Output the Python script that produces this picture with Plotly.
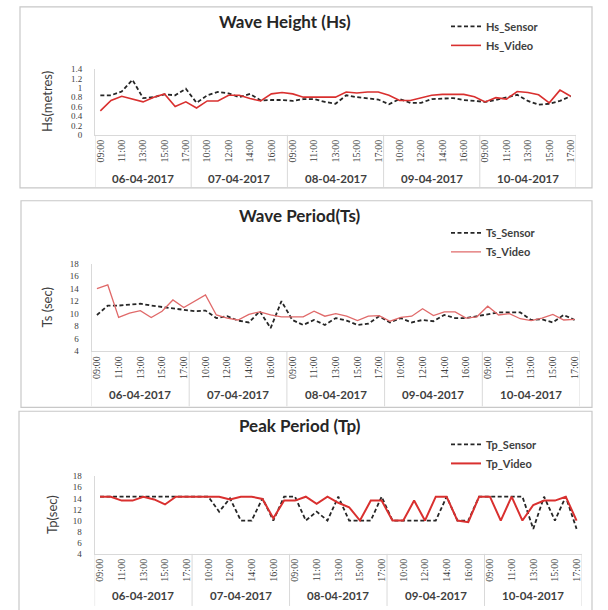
import plotly.graph_objects as go

# ---------------- data ----------------
dates = ["06-04-2017", "07-04-2017", "08-04-2017", "09-04-2017", "10-04-2017"]
hours = ["09:00", "10:00", "11:00", "12:00", "13:00", "14:00", "15:00", "16:00", "17:00"]

hs_sensor = [0.84, 0.84, 0.92, 1.17, 0.78, 0.80, 0.86, 0.84, 0.98,
             0.68, 0.84, 0.91, 0.88, 0.80, 0.87, 0.73, 0.74, 0.74,
             0.72, 0.76, 0.76, 0.70, 0.66, 0.84, 0.80, 0.78, 0.75,
             0.65, 0.76, 0.68, 0.68, 0.76, 0.77, 0.78, 0.74, 0.72,
             0.70, 0.74, 0.80, 0.85, 0.72, 0.64, 0.66, 0.72, 0.82]
hs_video = [0.51, 0.73, 0.82, 0.76, 0.70, 0.80, 0.87, 0.60, 0.70,
            0.57, 0.72, 0.72, 0.84, 0.84, 0.77, 0.72, 0.87, 0.90,
            0.87, 0.80, 0.80, 0.81, 0.80, 0.91, 0.89, 0.91, 0.91,
            0.84, 0.73, 0.73, 0.79, 0.84, 0.86, 0.86, 0.86, 0.81,
            0.70, 0.79, 0.76, 0.92, 0.90, 0.85, 0.68, 0.95, 0.82]

ts_sensor = [9.8, 11.3, 11.3, 11.4, 11.6, 11.3, 11.1, 10.9, 10.7,
             10.4, 10.5, 9.3, 9.6, 8.9, 8.6, 10.4, 7.7, 12.0,
             9.0, 8.2, 9.0, 8.2, 9.3, 8.9, 8.2, 8.4, 9.6,
             8.6, 9.3, 8.6, 9.0, 8.8, 9.8, 9.3, 9.3, 9.6,
             10.0, 10.2, 10.2, 10.2, 9.0, 9.1, 8.6, 9.8, 9.0]
ts_video = [14.0, 14.6, 9.4, 10.1, 10.5, 9.4, 10.4, 12.2, 11.0,
            12.0, 13.0, 9.8, 9.3, 9.0, 9.9, 10.3, 9.8, 9.5,
            9.5, 9.5, 10.4, 9.6, 10.0, 9.6, 8.9, 9.6, 9.7,
            8.8, 9.4, 9.6, 10.8, 9.7, 10.3, 10.3, 9.3, 9.5,
            11.2, 9.8, 10.0, 9.2, 8.9, 9.3, 9.9, 9.0, 9.1]

tp_sensor = [14.3, 14.3, 14.3, 14.3, 14.3, 14.3, 14.3, 14.3, 14.3,
             14.3, 14.3, 11.6, 14.0, 10.0, 10.0, 14.0, 10.0, 14.3,
             14.3, 10.0, 11.6, 10.0, 14.3, 10.0, 10.0, 10.0, 14.3,
             10.0, 10.0, 10.0, 10.0, 10.0, 14.3, 10.0, 10.0, 14.3,
             14.3, 14.3, 14.3, 14.3, 8.5, 14.3, 10.0, 14.3, 8.5]
tp_video = [14.3, 14.3, 13.6, 13.6, 14.3, 13.8, 12.9, 14.3, 14.3,
            14.3, 14.3, 14.3, 13.8, 14.3, 14.3, 13.9, 10.4, 13.6,
            13.6, 14.3, 13.0, 14.3, 13.2, 12.4, 10.0, 13.6, 13.6,
            10.0, 10.0, 13.6, 10.0, 14.3, 14.3, 10.0, 9.7, 14.3,
            14.3, 10.0, 14.3, 10.0, 12.8, 13.6, 13.6, 14.3, 10.0]

# ---------------- helpers ----------------
W, H = 608, 610
categories = [f"{d} {h}" for d in dates for h in hours]
n_per_day = len(hours)


def px_x(x):
    return x / W


def px_y(y):
    return 1 - y / H


panels = [
    dict(title="Wave Height (Hs)", ytitle="Hs(metres)", names=("Hs_Sensor", "Hs_Video"),
         data=(hs_sensor, hs_video), yrange=[0, 1.4], dtick=0.2,
         area=(95, 576, 65, 132), box=(20, 592, 2, 186), date_y=176, bottom=186,
         title_xy=(285, 17), ytitle_x=47, legend_xy=(446, 7),
         video_color="#d9302f", video_width=1.6),
    dict(title="Wave Period(Ts)", ytitle="Ts (sec)", names=("Ts_Sensor", "Ts_Video"),
         data=(ts_sensor, ts_video), yrange=[4, 18], dtick=2,
         area=(91.5, 580, 263, 352), box=(21, 592, 199, 409), date_y=396, bottom=409,
         title_xy=(300, 214), ytitle_x=47, legend_xy=(446, 217),
         video_color="#e06a6a", video_width=1.3),
    dict(title="Peak Period (Tp)", ytitle="Tp(sec)", names=("Tp_Sensor", "Tp_Video"),
         data=(tp_sensor, tp_video), yrange=[4, 18], dtick=2,
         area=(94.6, 582, 479, 558), box=(19, 592, 413, 640), date_y=600, bottom=612,
         title_xy=(300, 428), ytitle_x=52, legend_xy=(446, 432),
         video_color="#d9302f", video_width=2.0),
]

fig = go.Figure()
shapes = []
annotations = []
layout_axes = {}

for k, p in enumerate(panels, start=1):
    xa = "x" if k == 1 else f"x{k}"
    ya = "y" if k == 1 else f"y{k}"
    leg = "legend" if k == 1 else f"legend{k}"
    sens, vid = p["data"]
    fig.add_trace(go.Scatter(
        x=categories, y=sens, mode="lines", name=p["names"][0],
        line=dict(color="#262626", width=1.8, dash="4px,2.5px"),
        xaxis=xa, yaxis=ya, legend=leg))
    fig.add_trace(go.Scatter(
        x=categories, y=vid, mode="lines", name=p["names"][1],
        line=dict(color=p["video_color"], width=p["video_width"]),
        xaxis=xa, yaxis=ya, legend=leg))

    x0, x1, y0, y1 = p["area"]
    xkey = "xaxis" if k == 1 else f"xaxis{k}"
    ykey = "yaxis" if k == 1 else f"yaxis{k}"
    layout_axes[xkey] = dict(
        domain=[px_x(x0), px_x(x1)], anchor=ya, type="category",
        categoryorder="array", categoryarray=categories,
        range=[-0.5, len(categories) - 0.5],
        tickmode="array", tickvals=categories[::2],
        ticktext=[c.split(" ")[1] for c in categories[::2]],
        tickangle=-90, ticks="", showline=True, linecolor="#d9d9d9", linewidth=1,
        showgrid=False, zeroline=False,
        tickfont=dict(family="Liberation Serif", size=10, color="#404040"),
        fixedrange=True)
    layout_axes[ykey] = dict(
        domain=[px_y(y1), px_y(y0)], anchor=xa, range=p["yrange"], dtick=p["dtick"],
        tick0=p["yrange"][0], showline=True, linecolor="#d9d9d9", linewidth=1,
        showgrid=False, zeroline=False, ticks="", ticklabelstandoff=10,
        tickfont=dict(family="Liberation Serif", size=9, color="#404040"),
        fixedrange=True)

    # legend
    lx, ly = p["legend_xy"]
    layout_axes[leg] = dict(
        x=px_x(lx), y=px_y(ly), xanchor="left", yanchor="top",
        bgcolor="rgba(0,0,0,0)", itemwidth=30, tracegroupgap=0,
        font=dict(family="Lato", size=11, color="#404040", weight="bold"))

    # panel border
    bx0, bx1, by0, by1 = p["box"]
    shapes.append(dict(type="rect", xref="paper", yref="paper",
                       x0=px_x(bx0), x1=px_x(bx1), y0=px_y(by1), y1=px_y(by0),
                       line=dict(color="#c8c8c8", width=1.2), fillcolor="rgba(0,0,0,0)",
                       layer="below"))
    # day dividers (multi-level category axis)
    for d in range(len(dates) + 1):
        xb = d * n_per_day - 0.5
        shapes.append(dict(type="line", xref=xa, yref="paper",
                           x0=xb, x1=xb, y0=px_y(p["bottom"] - 1), y1=px_y(y1),
                           line=dict(color="#d9d9d9", width=1)))
    # day labels
    for d, dname in enumerate(dates):
        annotations.append(dict(
            x=categories[d * n_per_day + n_per_day // 2], xref=xa,
            y=px_y(p["date_y"]), yref="paper", text=dname, showarrow=False,
            font=dict(family="Lato", size=11.5, color="#404040", weight="bold"),
            xanchor="center", yanchor="middle"))
    # title
    tx, ty = p["title_xy"]
    annotations.append(dict(x=px_x(tx), y=px_y(ty), xref="paper", yref="paper",
                            text=f"<b>{p['title']}</b>", showarrow=False,
                            font=dict(family="Lato", size=17, color="#262626"),
                            xanchor="center", yanchor="middle"))
    # y axis title
    annotations.append(dict(x=px_x(p["ytitle_x"]), y=px_y((y0 + y1) / 2), xref="paper", yref="paper",
                            text=p["ytitle"], showarrow=False, textangle=-90,
                            font=dict(family="Lato", size=13, color="#404040"),
                            xanchor="center", yanchor="middle"))

fig.update_layout(
    width=W, height=H, margin=dict(l=0, r=0, t=0, b=0),
    paper_bgcolor="white", plot_bgcolor="white",
    shapes=shapes, annotations=annotations, showlegend=True,
    **layout_axes)

fig.write_html("out.html", config={"displayModeBar": False},
               post_script="document.body.style.margin='0';document.body.style.overflow='hidden';")
